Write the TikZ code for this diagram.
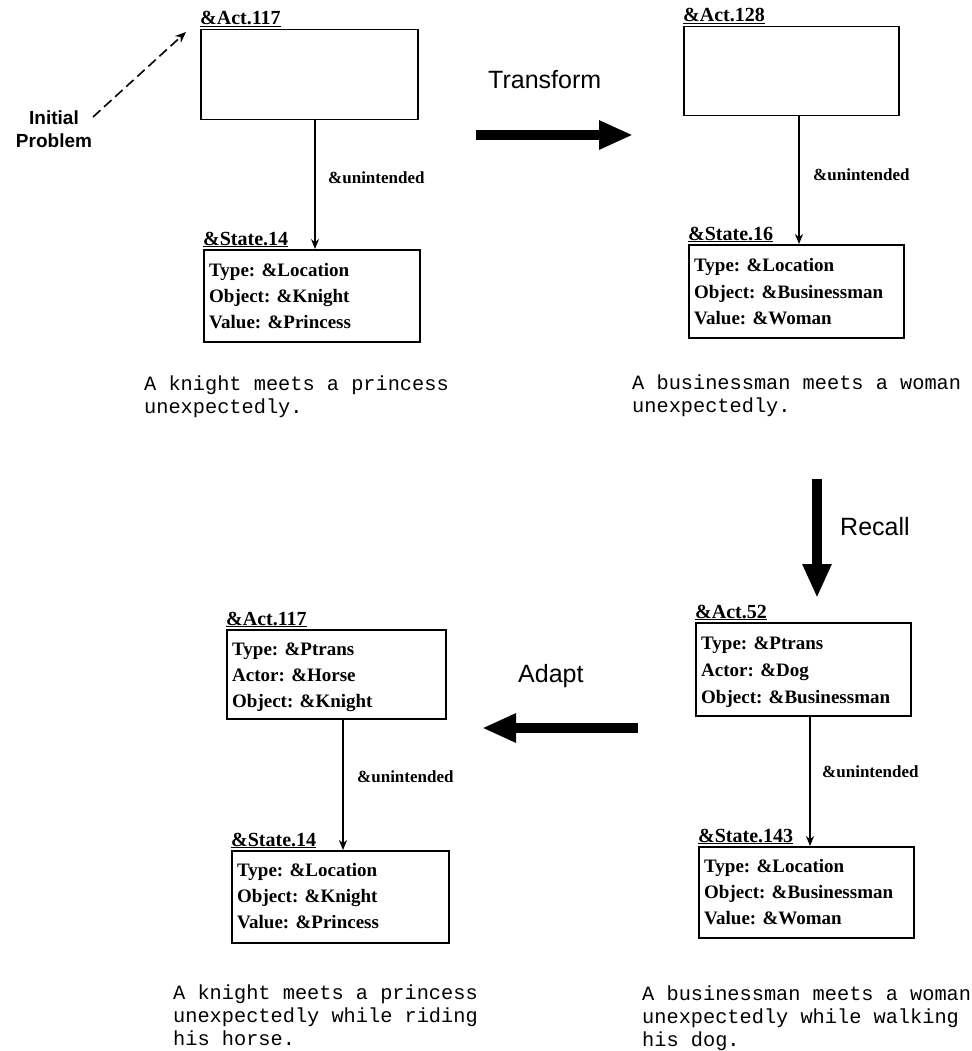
\documentclass[tikz,border=0pt]{standalone}
\usepackage{fontspec}
\setmainfont{Liberation Serif}
\setsansfont{Liberation Sans}
\setmonofont{Liberation Mono}
\usetikzlibrary{arrows.meta}
\begin{document}
\begin{tikzpicture}[x=1pt,y=-1pt,
  frame/.style={draw, line width=1.5pt, inner sep=0pt, anchor=north west},
  framelabel/.style={anchor=base west, inner sep=0pt, font=\bfseries\fontsize{20}{20}\selectfont},
  slot/.style={anchor=base west, inner sep=0pt, font=\bfseries\fontsize{19}{19}\selectfont},
  link/.style={line width=1.3pt, -{Stealth[length=10pt,width=8pt]}},
  linklabel/.style={anchor=west, inner sep=0pt, font=\bfseries\fontsize{17}{17}\selectfont},
  story/.style={anchor=base west, inner sep=0pt, font=\ttfamily\fontsize{20.3}{23}\selectfont},
  opname/.style={anchor=base west, inner sep=0pt, font=\sffamily\fontsize{25}{25}\selectfont},
  bigarrow/.style={line width=10pt, -{Triangle[length=34pt,width=27pt]}}]
\useasboundingbox (0,0) rectangle (971,1051);

% ---------- initial problem: &Act.117 -> &State.14 ----------
\node[frame, minimum width=217pt, minimum height=90pt] (a1) at (200,29) {};
\node[framelabel] (a1lab) at (200,25) {\underline{\&Act.117}};
\node[frame, minimum width=216pt, minimum height=92pt] (s1) at (203,249) {};
\node[framelabel] (s1lab) at (203,245) {\underline{\&State.14}};
\node[slot] (s1l1) at (209,276) {Type: \&Location};
\node[slot] (s1l2) at (209,302) {Object: \&Knight};
\node[slot] (s1l3) at (209,328) {Value: \&Princess};
\draw[link] ([xshift=115pt]a1.south west) -- ([xshift=115pt]a1.south west |- s1.north);
\node[linklabel] (u1) at (328,178) {\&unintended};
\node[story] (c1a) at (144,390) {A knight meets a princess};
\node[story] (c1b) at (144,413) {unexpectedly.};

\node[align=center, inner sep=0pt, font=\sffamily\bfseries\fontsize{19}{23}\selectfont] (init) at (54,129) {Initial\\Problem};
\coordinate (dashfrom) at (93,117);
\coordinate (dashto) at (186,32);
\draw[line width=1.6pt, dash pattern=on 10pt off 5pt, -{Stealth[length=11pt,width=9pt]}] (dashfrom) -- (dashto);

% ---------- Transform ----------
\node[opname] (transform) at (488,89) {Transform};
\coordinate (tfrom) at (476,135);
\coordinate (tto) at (633,135);
\draw[bigarrow] (tfrom) -- (tto);

% ---------- transformed problem: &Act.128 -> &State.16 ----------
\node[frame, minimum width=215pt, minimum height=89pt] (a2) at (683,26) {};
\node[framelabel] (a2lab) at (683,22) {\underline{\&Act.128}};
\node[frame, minimum width=215pt, minimum height=93pt] (s2) at (688,244) {};
\node[framelabel] (s2lab) at (688,240) {\underline{\&State.16}};
\node[slot] (s2l1) at (694,271) {Type: \&Location};
\node[slot] (s2l2) at (694,298) {Object: \&Businessman};
\node[slot] (s2l3) at (694,324) {Value: \&Woman};
\draw[link] ([xshift=116pt]a2.south west) -- ([xshift=116pt]a2.south west |- s2.north);
\node[linklabel] (u2) at (813,175) {\&unintended};
\node[story] (c2a) at (632,389) {A businessman meets a woman};
\node[story] (c2b) at (632,412) {unexpectedly.};

% ---------- Recall ----------
\node[opname] (recall) at (840,535) {Recall};
\coordinate (rfrom) at (817,479);
\coordinate (rto) at (817,598);
\draw[bigarrow] (rfrom) -- (rto);

% ---------- recalled case: &Act.52 -> &State.143 ----------
\node[frame, minimum width=215pt, minimum height=93pt] (a3) at (695,622) {};
\node[framelabel] (a3lab) at (695,618) {\underline{\&Act.52}};
\node[slot] (a3l1) at (701,649) {Type: \&Ptrans};
\node[slot] (a3l2) at (701,676) {Actor: \&Dog};
\node[slot] (a3l3) at (701,703) {Object: \&Businessman};
\node[frame, minimum width=215pt, minimum height=91pt] (s3) at (698,846) {};
\node[framelabel] (s3lab) at (698,842) {\underline{\&State.143}};
\node[slot] (s3l1) at (704,872) {Type: \&Location};
\node[slot] (s3l2) at (704,898) {Object: \&Businessman};
\node[slot] (s3l3) at (704,924) {Value: \&Woman};
\draw[link] ([xshift=115pt]a3.south west) -- ([xshift=115pt]a3.south west |- s3.north);
\node[linklabel] (u3) at (822,772) {\&unintended};
\node[story] (c4a) at (642,1000) {A businessman meets a woman};
\node[story] (c4b) at (642,1023) {unexpectedly while walking};
\node[story] (c4c) at (642,1046) {his dog.};

% ---------- Adapt ----------
\node[opname] (adapt) at (518,682) {Adapt};
\coordinate (afrom) at (638,728);
\coordinate (ato) at (482,728);
\draw[bigarrow] (afrom) -- (ato);

% ---------- adapted solution: &Act.117 -> &State.14 ----------
\node[frame, minimum width=219pt, minimum height=89pt] (a4) at (226,629) {};
\node[framelabel] (a4lab) at (226,625) {\underline{\&Act.117}};
\node[slot] (a4l1) at (232,655) {Type: \&Ptrans};
\node[slot] (a4l2) at (232,681) {Actor: \&Horse};
\node[slot] (a4l3) at (232,707) {Object: \&Knight};
\node[frame, minimum width=217pt, minimum height=92pt] (s4) at (231,850) {};
\node[framelabel] (s4lab) at (231,846) {\underline{\&State.14}};
\node[slot] (s4l1) at (237,876) {Type: \&Location};
\node[slot] (s4l2) at (237,902) {Object: \&Knight};
\node[slot] (s4l3) at (237,928) {Value: \&Princess};
\draw[link] ([xshift=117pt]a4.south west) -- ([xshift=117pt]a4.south west |- s4.north);
\node[linklabel] (u4) at (357,777) {\&unintended};
\node[story] (c3a) at (173,999) {A knight meets a princess};
\node[story] (c3b) at (173,1022) {unexpectedly while riding};
\node[story] (c3c) at (173,1045) {his horse.};
\end{tikzpicture}
\end{document}
